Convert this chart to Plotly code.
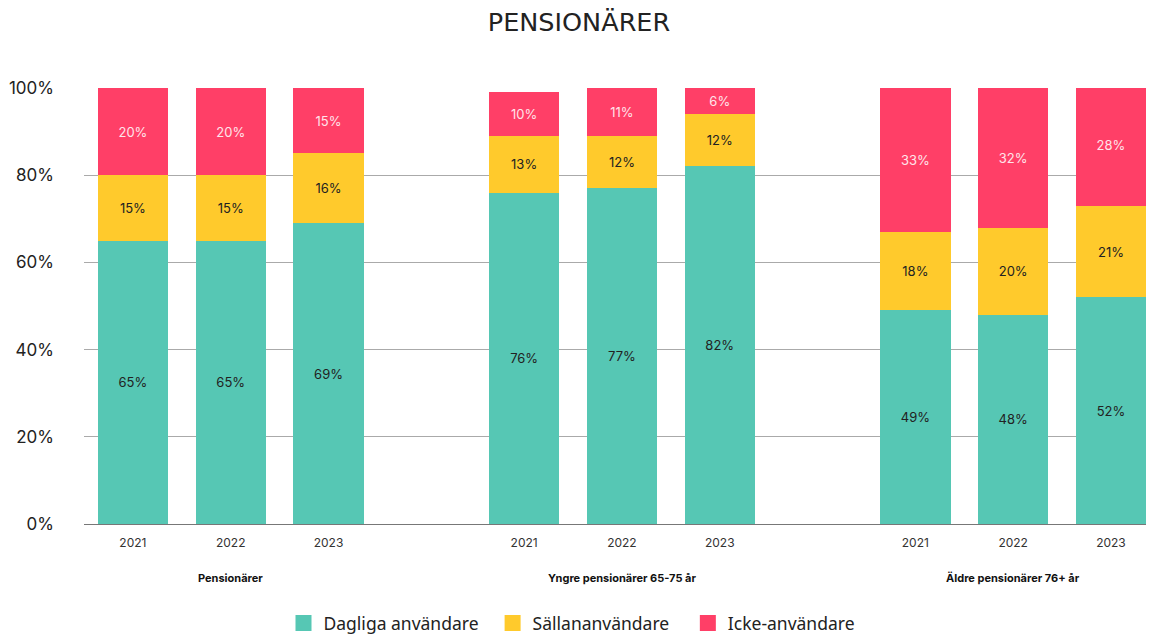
import plotly.graph_objects as go

groups = ["Pensionärer", "Yngre pensionärer 65-75 år", "Äldre pensionärer 76+ år"]
years = ["2021", "2022", "2023"]
dagliga = [65, 65, 69, 76, 77, 82, 49, 48, 52]
sallan = [15, 15, 16, 13, 12, 12, 18, 20, 21]
icke = [20, 20, 15, 10, 11, 6, 33, 32, 28]

series = [
    ("Dagliga användare\u00a0\u00a0", dagliga, "#56C7B4", "#222222"),
    ("Sällananvändare\u00a0\u00a0\u00a0", sallan, "#FFCA2C", "#222222"),
    ("Icke-användare", icke, "#FF3F67", "#FFE4EA"),
]

# positions: 3 bars per group, gap of one slot between groups
xpos = []
xlabels = []
for gi in range(len(groups)):
    for yi, yr in enumerate(years):
        xpos.append(gi * 4 + yi)
        xlabels.append(yr)

fig = go.Figure()
for name, vals, col, tcol in series:
    fig.add_trace(go.Bar(
        x=xpos, y=vals, name=name, marker=dict(color=col, line=dict(width=0)),
        width=0.72, text=[f"{v}%" for v in vals], textposition="inside",
        insidetextanchor="middle", constraintext="none",
        textfont=dict(size=13, color=tcol, family="Inter"),
        showlegend=False, hoverinfo="skip",
    ))
    fig.add_trace(go.Scatter(
        x=[None], y=[None], mode="markers", name=name,
        marker=dict(symbol="square", size=22, color=col),
    ))

for gi, g in enumerate(groups):
    fig.add_annotation(x=gi * 4 + 1, y=0, xref="x", yref="paper", yshift=-63,
                       text=f"<b>{g}</b>", showarrow=False,
                       font=dict(size=11, color="#111111", family="Inter"))

fig.update_layout(
    width=1154, height=634,
    margin=dict(l=76, r=8, t=80, b=118),
    paper_bgcolor="white", plot_bgcolor="white",
    barmode="stack",
    title=dict(text="PENSIONÄRER", x=571 / 1154, xref="container", xanchor="center",
               y=1 - 14 / 634, yanchor="middle",
               font=dict(size=25.5, color="#222222", family="DejaVu Sans")),
    font=dict(family="Inter", color="#222222"),
    xaxis=dict(range=[-0.5, 10.44], tickmode="array", tickvals=xpos, ticktext=xlabels,
               showgrid=False, zeroline=False, showline=False, ticks="",
               ticklabelstandoff=10, automargin=False,
               tickfont=dict(size=12, color="#333333")),
    yaxis=dict(range=[0, 100], tickvals=[0, 20, 40, 60, 80, 100],
               ticktext=["0%", "20%", "40%", "60%", "80%", "100%"],
               showgrid=True, gridcolor="#AAAAAA", gridwidth=1,
               zeroline=True, zerolinecolor="#777777", zerolinewidth=1,
               ticks="", ticklabelstandoff=29, automargin=False,
               tickfont=dict(size=17, color="#222222")),
    legend=dict(orientation="h", x=564 / 1154, xanchor="center", xref="container",
                y=(634 - 615) / 634, yanchor="middle", yref="container",
                font=dict(size=17.5, color="#222222", family="Noto Sans"),
                itemsizing="trace", traceorder="normal", itemwidth=30),
)

fig.write_html("out.html")
